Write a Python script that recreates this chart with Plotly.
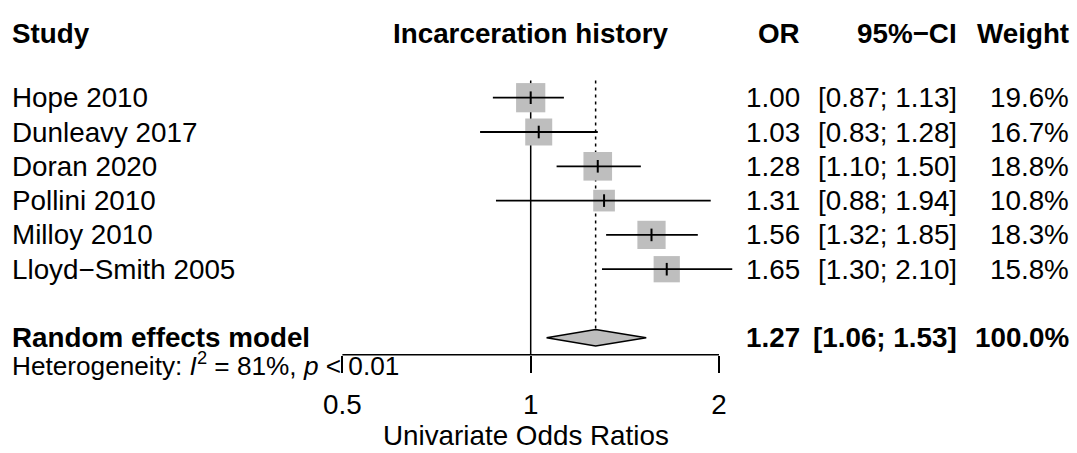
import math
import plotly.graph_objects as go

# ---------------- data ----------------
studies = ["Hope 2010", "Dunleavy 2017", "Doran 2020", "Pollini 2010",
           "Milloy 2010", "Lloyd\u2212Smith 2005"]
or_vals = [1.00, 1.03, 1.28, 1.31, 1.56, 1.65]
ci_lo = [0.87, 0.83, 1.10, 0.88, 1.32, 1.30]
ci_hi = [1.13, 1.28, 1.50, 1.94, 1.85, 2.10]
weights = [19.6, 16.7, 18.8, 10.8, 18.3, 15.8]
pooled_label = "Random effects model"
pooled_or = 1.27
pooled_lo = 1.06
pooled_hi = 1.53
pooled_weight = 100.0
het_text = "Heterogeneity: <i>I</i><sup>2</sup> = 81%, <i>p</i> &lt; 0.01"
tick_vals = [0.5, 1, 2]
tick_text = ["0.5", "1", "2"]
headers = ["Study", "Incarceration history", "OR", "95%\u2212CI", "Weight"]
x_title = "Univariate Odds Ratios"

# ---------------- layout geometry ----------------
W, H = 1077, 453
FONT = "Liberation Sans, Arial, Helvetica, sans-serif"
FS = 27.8
ROW0_PX = 97.7      # pixel y of first study row
ROW_PX = 34.3       # pixel spacing of rows
X1_PX = 530.7       # pixel x of OR = 1
OCT_PX = 188.3      # pixels per doubling
AXIS_PX = 354.8     # pixel y of axis line


def px_to_row(p):
    return (p - ROW0_PX) / ROW_PX


def px_to_log10(p):
    return (p - X1_PX) / OCT_PX * math.log10(2)


rows = list(range(len(studies)))
pooled_row = len(studies) + 1
axis_row = px_to_row(AXIS_PX)
header_row = -1.88
d_half = 8.2 / ROW_PX

fig = go.Figure()

# reference line at 1 (solid) and pooled estimate (dotted)
fig.add_trace(go.Scatter(x=[1, 1], y=[-0.5, axis_row], mode="lines",
                         line=dict(color="black", width=1.5), hoverinfo="skip"))
fig.add_trace(go.Scatter(x=[pooled_or, pooled_or], y=[-0.5, pooled_row - d_half],
                         mode="lines",
                         line=dict(color="black", width=1.5, dash="3px,4px"),
                         hoverinfo="skip"))

# axis line from first to last tick
fig.add_trace(go.Scatter(x=[tick_vals[0], tick_vals[-1]], y=[axis_row, axis_row],
                         mode="lines", line=dict(color="black", width=1.5),
                         hoverinfo="skip"))

# squares (side ~ sqrt(weight))
fig.add_trace(go.Scatter(x=or_vals, y=rows, mode="markers",
                         marker=dict(symbol="square", color="#BEBEBE", opacity=1,
                                     size=[6.6 * math.sqrt(w) for w in weights],
                                     line=dict(width=0)),
                         hoverinfo="skip"))

# CI lines
cx, cy = [], []
for lo, hi, r in zip(ci_lo, ci_hi, rows):
    cx += [lo, hi, None]
    cy += [r, r, None]
fig.add_trace(go.Scatter(x=cx, y=cy, mode="lines",
                         line=dict(color="black", width=1.8), hoverinfo="skip"))

# estimate ticks
fig.add_trace(go.Scatter(x=or_vals, y=rows, mode="markers",
                         marker=dict(symbol="line-ns", size=9, opacity=1,
                                     line=dict(color="black", width=2)),
                         hoverinfo="skip"))

# pooled diamond
fig.add_trace(go.Scatter(x=[pooled_lo, pooled_or, pooled_hi, pooled_or, pooled_lo],
                         y=[pooled_row, pooled_row - d_half, pooled_row,
                            pooled_row + d_half, pooled_row],
                         mode="lines", fill="toself", fillcolor="#BEBEBE",
                         line=dict(color="black", width=1.5), hoverinfo="skip"))

# ---------------- text ----------------
ann = []
STUDY_X = 12 / W
OR_X = 800 / W
CI_X = 957 / W
WT_X = 1069 / W
MID_X = X1_PX / W


def txt(x, y, s, anchor, bold=False, size=FS, yref="y"):
    ann.append(dict(x=x, y=y, xref="paper", yref=yref, text=(f"<b>{s}</b>" if bold else s),
                    showarrow=False, xanchor=anchor, yanchor="middle",
                    font=dict(family=FONT, size=size, color="black"),
                    borderpad=0, borderwidth=0))


txt(STUDY_X, header_row, headers[0], "left", True)
txt(MID_X, header_row, headers[1], "center", True)
txt(OR_X, header_row, headers[2], "right", True)
txt(CI_X, header_row, headers[3], "right", True)
txt(WT_X, header_row, headers[4], "right", True)

for s, o, lo, hi, w, r in zip(studies, or_vals, ci_lo, ci_hi, weights, rows):
    txt(STUDY_X, r, s, "left")
    txt(OR_X, r, f"{o:.2f}", "right")
    txt(CI_X, r, f"[{lo:.2f}; {hi:.2f}]", "right")
    txt(WT_X, r, f"{w:.1f}%", "right")

txt(STUDY_X, pooled_row, pooled_label, "left", True)
txt(OR_X, pooled_row, f"{pooled_or:.2f}", "right", True)
txt(CI_X, pooled_row, f"[{pooled_lo:.2f}; {pooled_hi:.2f}]", "right", True)
txt(WT_X, pooled_row, f"{pooled_weight:.1f}%", "right", True)

txt(STUDY_X, px_to_row(364), het_text, "left", size=26.2)
txt(MID_X - 5 / W, px_to_row(435), x_title, "center")

fig.update_layout(
    width=W, height=H,
    margin=dict(l=0, r=0, t=0, b=0),
    paper_bgcolor="white", plot_bgcolor="white",
    showlegend=False,
    annotations=ann,
    xaxis=dict(type="log", domain=[0, 1],
               range=[px_to_log10(0), px_to_log10(W)],
               anchor="free", position=1 - AXIS_PX / H,
               showline=False, showgrid=False, zeroline=False,
               ticks="outside", ticklen=17, tickwidth=1.5, tickcolor="black",
               tickvals=tick_vals, ticktext=tick_text,
               tickfont=dict(family=FONT, size=FS, color="black"),
               ticklabelstandoff=8),
    yaxis=dict(range=[px_to_row(H), px_to_row(0)], domain=[0, 1],
               visible=False, showgrid=False, zeroline=False),
)

fig.write_html("out.html")
